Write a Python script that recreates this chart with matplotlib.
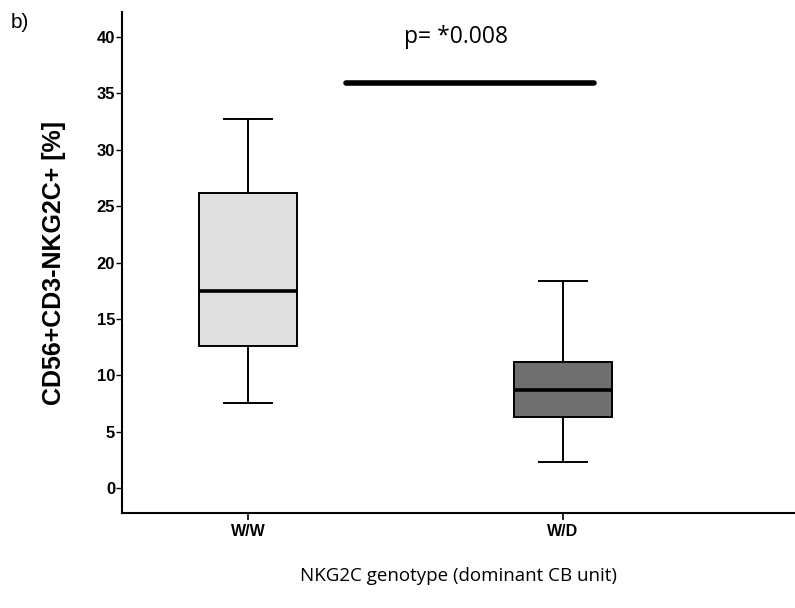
import matplotlib
matplotlib.use("Agg")
import matplotlib.pyplot as plt

# Group labels and summary statistics (percent of CD56+CD3-NKG2C+ cells)
groups = ["W/W", "W/D"]
whisker_low = [7.6, 2.3]
q1 = [12.6, 6.3]
median = [17.5, 8.7]
q3 = [26.2, 11.2]
whisker_high = [32.7, 18.4]
box_colors = ["#e0e0e0", "#6f6f6f"]

p_text = "p= *0.008"
p_bar_level = 35.9
y_ticks = [0, 5, 10, 15, 20, 25, 30, 35, 40]

fig = plt.figure(figsize=(7.95, 6.08), dpi=100)
ax = fig.add_axes([0.1535, 0.156, 0.8465, 0.824])

stats = []
for i, g in enumerate(groups):
    stats.append(dict(label=g, whislo=whisker_low[i], q1=q1[i], med=median[i],
                      q3=q3[i], whishi=whisker_high[i], fliers=[]))

bp = ax.bxp(stats, positions=range(len(groups)), widths=0.31, patch_artist=True,
            showfliers=False,
            boxprops=dict(linewidth=1.4, edgecolor="black"),
            medianprops=dict(color="black", linewidth=2.6),
            whiskerprops=dict(color="black", linewidth=1.4),
            capprops=dict(color="black", linewidth=1.4),
            capwidths=0.155)
for patch, c in zip(bp["boxes"], box_colors):
    patch.set_facecolor(c)

# significance bar and p-value
ax.plot([0.31, 1.10], [p_bar_level, p_bar_level], color="black", linewidth=4,
        solid_capstyle="round")
ax.text(0.66, 40.0, p_text, ha="center", va="center", fontsize=16.5,
        family="Open Sans")

ax.set_xlim(-0.4, 1.737)
ax.set_ylim(-2.2, 42.2)
ax.set_yticks(y_ticks)
ax.set_yticklabels([str(v) for v in y_ticks], fontsize=12, fontweight="bold",
                   family="Liberation Sans")
ax.set_xticks(range(len(groups)))
ax.set_xticklabels(groups, fontsize=11.5, fontweight="bold", family="Liberation Sans")
ax.tick_params(axis="y", direction="out", length=4, width=1, pad=1)
ax.tick_params(axis="x", direction="out", length=5, width=1.2, pad=3)

for s in ["top", "right"]:
    ax.spines[s].set_visible(False)
ax.spines["left"].set_linewidth(1.5)
ax.spines["bottom"].set_linewidth(1.5)

ax.set_ylabel("CD56+CD3-NKG2C+ [%]", fontsize=18, fontweight="bold",
              family="Liberation Sans", labelpad=22)
ax.set_xlabel("NKG2C genotype (dominant CB unit)", fontsize=13.5,
              family="Open Sans", labelpad=20)

fig.text(0.014, 0.963, "b)", fontsize=15, family="Liberation Sans", va="center")

fig.savefig("out.png", dpi=100)
